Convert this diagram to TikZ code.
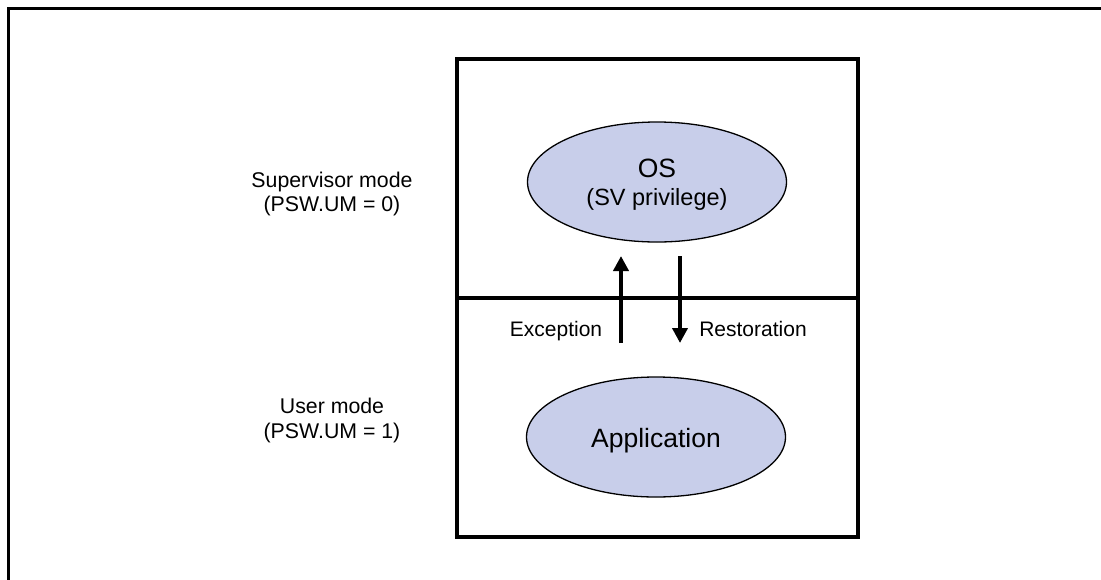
\documentclass[tikz,border=0pt]{standalone}
\usepackage{fontspec}
\setmainfont{Liberation Sans}
\usetikzlibrary{shapes.geometric,arrows.meta}
\definecolor{ellfill}{RGB}{200,206,234}
\tikzset{
  frameline/.style={line width=3pt},
  boxline/.style={line width=4pt},
  ellnode/.style={ellipse, draw=black, line width=1.3pt, fill=ellfill, minimum width=259pt, minimum height=120pt, inner sep=0pt, align=center},
  bigtext/.style={font=\fontsize{26.5}{30}\selectfont, inner sep=0pt, anchor=base},
  midtext/.style={font=\fontsize{23.5}{27}\selectfont, inner sep=0pt, anchor=base},
  sidelabel/.style={align=center, font=\fontsize{21.3}{24.5}\selectfont, inner sep=0pt, anchor=base},
  arrlabel/.style={font=\fontsize{21}{25}\selectfont, inner sep=0pt, anchor=base},
  modearrow/.style={line width=4pt, -{Triangle[length=15pt,width=15pt]}}
}
\begin{document}
\begin{tikzpicture}[x=1pt,y=-1pt]
\useasboundingbox (0,0) rectangle (1101,579);
% outer frame (only top and left visible)
\draw[frameline] (8,600) -- (8,8) -- (1120,8);
% inner box
\draw[boxline] (457,59) rectangle (858,537);
\draw[boxline] (457,298) -- (858,298);
% ellipses
\node[ellnode] (os) at (657,182) {};
\node[bigtext] (ostitle) at (657,177) {OS};
\node[midtext] (ossub) at (657,205.5) {(SV privilege)};
\node[ellnode] (app) at (656,437) {};
\node[bigtext] (apptext) at (656,447.5) {Application};
% side labels
\node[sidelabel] (sv) at (332,187) {Supervisor mode};
\node[sidelabel] (sv2) at (332,211.5) {(PSW.UM = 0)};
\node[sidelabel] (um) at (332,413.5) {User mode};
\node[sidelabel] (um2) at (332,438) {(PSW.UM = 1)};
% arrows
\coordinate (excA) at (621,343);
\coordinate (excB) at (621,256);
\coordinate (resA) at (680,256);
\coordinate (resB) at (680,343);
\draw[modearrow] (excA) -- (excB);
\draw[modearrow] (resA) -- (resB);
\node[arrlabel] (exc) at (556,336.7) {Exception};
\node[arrlabel] (res) at (753,336.7) {Restoration};
\end{tikzpicture}
\end{document}
